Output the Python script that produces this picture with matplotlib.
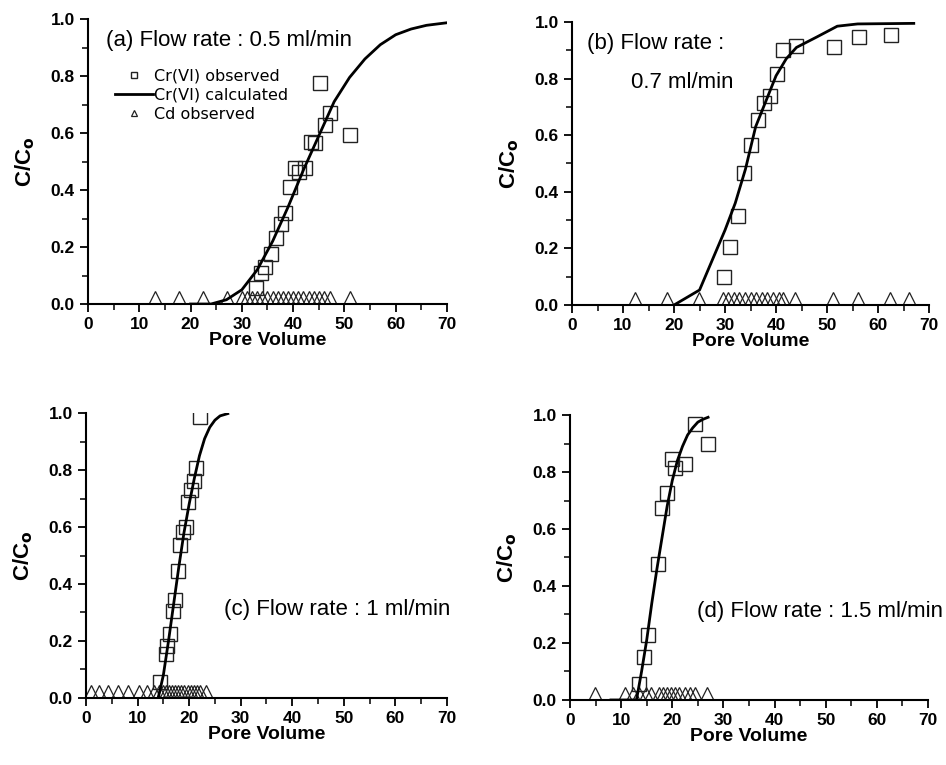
import numpy as np
import matplotlib
matplotlib.use("Agg")
import matplotlib.pyplot as plt
from matplotlib.ticker import MultipleLocator

plt.rcParams['font.family'] = ['Liberation Sans', 'DejaVu Sans']

# (a) 0.5 ml/min
a_sq_x = [32.8, 33.7, 34.6, 35.6, 36.6, 37.6, 38.4, 39.3, 40.4, 41.2, 42.4, 43.5, 44.3, 45.3, 46.3, 47.1, 51.0]
a_sq_y = [0.055, 0.108, 0.13, 0.175, 0.23, 0.28, 0.32, 0.41, 0.476, 0.465, 0.476, 0.57, 0.566, 0.774, 0.628, 0.669, 0.593]
a_fit_x = [20, 24, 27, 30, 33, 36, 39, 42, 45, 48, 51, 54, 57, 60, 63, 66, 70]
a_fit_y = [0.0, 0.0, 0.015, 0.05, 0.12, 0.22, 0.34, 0.47, 0.59, 0.71, 0.795, 0.86, 0.91, 0.945, 0.965, 0.978, 0.987]
a_cd_x = [13.1, 17.8, 22.4, 27.1, 30, 31, 32, 33, 34, 35, 36, 37, 38, 39, 40, 41, 42, 43, 44, 45, 46, 47.1, 51.0]

# (b) 0.7 ml/min
b_sq_x = [29.7, 31.0, 32.5, 33.8, 35.1, 36.4, 37.6, 38.8, 40.1, 41.4, 44.0, 51.3, 56.3, 62.6]
b_sq_y = [0.098, 0.204, 0.314, 0.468, 0.567, 0.655, 0.715, 0.739, 0.815, 0.9, 0.915, 0.912, 0.947, 0.953]
b_fit_x = [20, 25, 30, 32, 34, 36, 38, 40, 42, 44, 48, 52, 56, 67]
b_fit_y = [0.0, 0.053, 0.265, 0.36, 0.48, 0.63, 0.72, 0.81, 0.87, 0.91, 0.947, 0.985, 0.993, 0.995]
b_cd_x = [12.4, 18.6, 24.8, 29.5, 30.6, 31.7, 32.8, 33.9, 35.0, 36.1, 37.2, 38.3, 39.4, 40.5, 41.4, 43.7, 51.2, 56.1, 62.4, 66.0]

# (c) 1 ml/min
c_sq_x = [14.4, 15.6, 15.8, 16.2, 16.9, 17.3, 17.9, 18.3, 18.8, 19.4, 19.8, 20.4, 20.9, 21.4, 22.1]
c_sq_y = [0.055, 0.156, 0.184, 0.226, 0.304, 0.345, 0.444, 0.538, 0.581, 0.6, 0.687, 0.731, 0.76, 0.807, 0.985]
c_fit_x = [14, 15, 16, 17, 18, 19, 20, 21, 22, 23, 24, 25, 26, 27.5]
c_fit_y = [0.0, 0.08, 0.2, 0.33, 0.46, 0.58, 0.68, 0.77, 0.85, 0.91, 0.95, 0.975, 0.99, 0.998]
c_cd_x = [0.9, 2.6, 4.2, 6.2, 8.2, 10.2, 11.9, 13.2, 14.2, 14.9, 15.5, 16.1, 16.7, 17.3, 17.9, 18.5,
          19.1, 19.7, 20.3, 20.9, 21.5, 22.1, 23.2]

# (d) 1.5 ml/min
d_sq_x = [13.5, 14.5, 15.3, 17.3, 17.9, 18.9, 19.9, 20.5, 22.5, 24.4, 26.9]
d_sq_y = [0.056, 0.15, 0.228, 0.477, 0.672, 0.725, 0.844, 0.813, 0.828, 0.968, 0.898]
d_fit_x = [8, 13, 14, 15, 16, 17, 18, 19, 20, 21, 22, 23, 24, 25, 26, 27]
d_fit_y = [0.0, 0.0, 0.1, 0.21, 0.34, 0.46, 0.57, 0.68, 0.77, 0.84, 0.89, 0.93, 0.955, 0.975, 0.985, 0.992]
d_cd_x = [4.9, 10.8, 12.3, 13.5, 14.8, 15.9, 17.4, 18.2, 19.0, 19.8, 20.6, 21.4, 22.4, 23.5, 24.4, 26.7]

cd_y = 0.02

panels = [
    ([0.093, 0.6026, 0.3795, 0.3725], a_sq_x, a_sq_y, a_fit_x, a_fit_y, a_cd_x),
    ([0.6047, 0.6013, 0.3774, 0.370], b_sq_x, b_sq_y, b_fit_x, b_fit_y, b_cd_x),
    ([0.0909, 0.0876, 0.3816, 0.3725], c_sq_x, c_sq_y, c_fit_x, c_fit_y, c_cd_x),
    ([0.6025, 0.085, 0.3785, 0.3725], d_sq_x, d_sq_y, d_fit_x, d_fit_y, d_cd_x),
]

fig = plt.figure(figsize=(9.46, 7.65), dpi=100)
axes = []
for rect, sx, sy, fx, fy, cx in panels:
    ax = fig.add_axes(rect)
    ax.plot(fx, fy, color='black', lw=2.0, zorder=3, label='Cr(VI) calculated')
    ax.plot(sx, sy, 's', ms=9.5, mfc='none', mec='#222222', mew=1.0, zorder=2, label='Cr(VI) observed')
    ax.plot(cx, [cd_y] * len(cx), '^', ms=10, mfc='none', mec='#222222', mew=0.9, zorder=2, label='Cd observed')
    ax.set_xlim(0, 70)
    ax.set_ylim(0, 1.0)
    ax.spines['top'].set_visible(False)
    ax.spines['right'].set_visible(False)
    ax.spines['left'].set_linewidth(1.5)
    ax.spines['bottom'].set_linewidth(1.5)
    ax.xaxis.set_major_locator(MultipleLocator(10))
    ax.xaxis.set_minor_locator(MultipleLocator(5))
    ax.yaxis.set_major_locator(MultipleLocator(0.2))
    ax.yaxis.set_minor_locator(MultipleLocator(0.1))
    ax.yaxis.set_major_formatter(matplotlib.ticker.FormatStrFormatter('%.1f'))
    ax.tick_params(which='major', direction='out', length=6, width=1.3, labelsize=12.5)
    ax.tick_params(which='minor', direction='out', length=4, width=1.1)
    for t in ax.get_xticklabels() + ax.get_yticklabels():
        t.set_fontweight('bold')
    ax.set_xlabel('Pore Volume', fontsize=14, fontweight='bold', labelpad=0)
    ax.set_ylabel(r'C/C$_\mathbf{o}$', fontsize=16, fontweight='bold', labelpad=10)
    axes.append(ax)

axes[0].text(3.5, 0.905, '(a) Flow rate : 0.5 ml/min', fontsize=16)
axes[1].text(3.0, 0.905, '(b) Flow rate :', fontsize=16)
axes[1].text(11.5, 0.765, '0.7 ml/min', fontsize=16)
axes[2].text(26.8, 0.29, '(c) Flow rate : 1 ml/min', fontsize=16)
axes[3].text(24.8, 0.29, '(d) Flow rate : 1.5 ml/min', fontsize=16)

h, l = axes[0].get_legend_handles_labels()
order = [1, 0, 2]
leg = axes[0].legend([h[i] for i in order], [l[i] for i in order], loc='upper left',
                     bbox_to_anchor=(0.075, 0.825), frameon=False,
                     prop={'family': 'DejaVu Sans', 'size': 11.5},
                     borderpad=0, borderaxespad=0,
                     handlelength=2.4, handletextpad=0.05, labelspacing=0.25, markerscale=0.5)

fig.savefig('out.png', dpi=100)
